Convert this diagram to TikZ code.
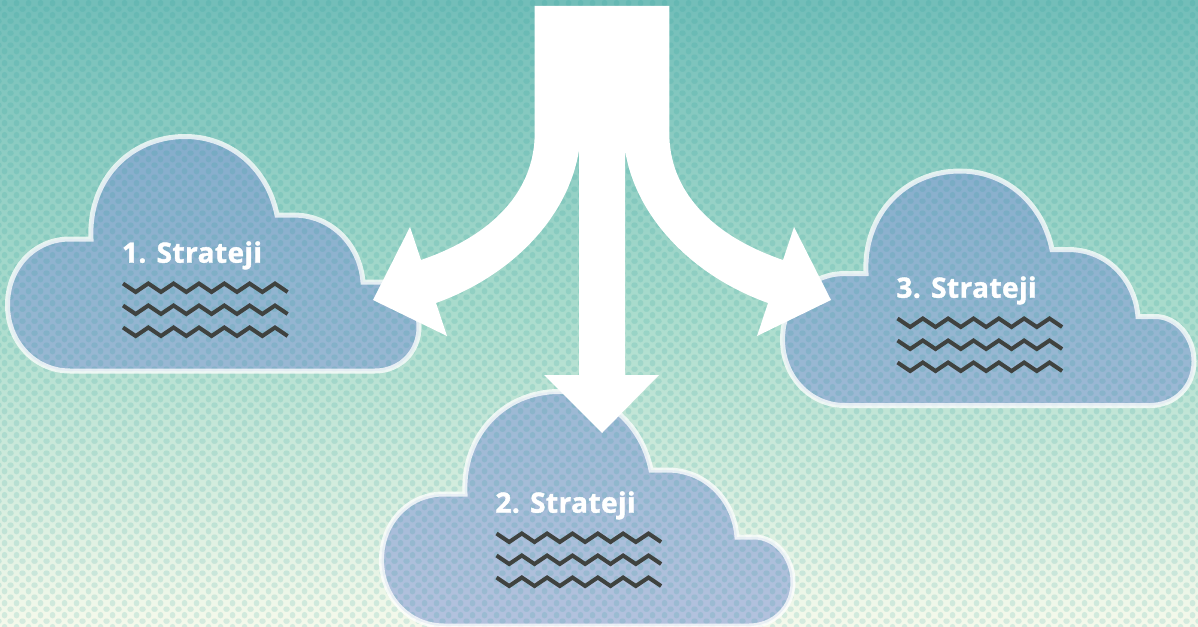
\documentclass[tikz,border=0pt]{standalone}
\usepackage{fontspec}
\usetikzlibrary{patterns}
\setmainfont{Open Sans}[BoldFont={Open Sans Bold},BoldFeatures={FakeBold=1.4,LetterSpace=1.5}]
\definecolor{bgtop}{RGB}{114,190,185}
\definecolor{bgmid}{RGB}{170,220,205}
\definecolor{bgbot}{RGB}{245,249,235}
\definecolor{dotc}{RGB}{30,155,150}
\definecolor{cloudc}{RGB}{130,152,212}
\definecolor{zigc}{RGB}{63,66,63}
\pgfdeclareverticalshading{bggrad}{100bp}{color(0bp)=(bgbot); color(25bp)=(bgbot); color(50bp)=(bgmid); color(75bp)=(bgtop); color(100bp)=(bgtop)}
\pgfdeclarepatternformonly{halftone}{\pgfpointorigin}{\pgfpoint{12pt}{12pt}}{\pgfpoint{12pt}{12pt}}{
 \pgfpathcircle{\pgfpoint{6pt}{0.3pt}}{3pt}
 \pgfpathcircle{\pgfpoint{6pt}{12.3pt}}{3pt}
 \pgfpathcircle{\pgfpoint{0pt}{6.3pt}}{3pt}
 \pgfpathcircle{\pgfpoint{12pt}{6.3pt}}{3pt}
 \pgfusepath{fill}}
\newcommand{\cloudshape}{(70,239) -- (91,239)
 .. controls (88,180) and (130,136.5) .. (185,136.5)
 .. controls (232,136.5) and (268,170) .. (277,215)
 -- (293,215) .. controls (332,215) and (360,245) .. (363,282)
 -- (380,282) .. controls (402,282) and (419,303) .. (419,327)
 .. controls (419,352) and (400,371) .. (375,371)
 -- (70,371) .. controls (34,371) and (7.5,341) .. (7.5,305)
 .. controls (7.5,268) and (34,239) .. (70,239) -- cycle}
\newcommand{\zigline}[1]{(123,#1) -- (135.66,#1+8.5) -- (148.3,#1) -- (161,#1+8.5) -- (173.6,#1) -- (186.3,#1+8.5) -- (199,#1) -- (211.6,#1+8.5) -- (224.3,#1) -- (237,#1+8.5) -- (249.6,#1) -- (262.3,#1+8.5) -- (275,#1) -- (287.6,#1+8.5)}
\tikzset{
 x=1pt,y=-1pt,
 cloudfill/.style={fill=cloudc,fill opacity=.57},
 cloudline/.style={draw=white,draw opacity=.76,line width=5pt,line join=miter},
 dotfill/.style={pattern=halftone,pattern color=dotc,fill opacity=.15},
 zig/.style={draw=zigc,line width=4pt,line join=miter},
 title/.style={text=white,font=\bfseries\fontsize{28}{30}\selectfont,anchor=base west,inner sep=0pt,outer sep=0pt},
 arrowfill/.style={fill=white}
}
\begin{document}
\begin{tikzpicture}
\useasboundingbox (0,0) rectangle (1198,626);
\begin{scope}
\clip (0,0) rectangle (1198,626);
\shade[shading=bggrad] (0,0) rectangle (1198,626);
% cloud fills
\fill[cloudfill] \cloudshape;
\begin{scope}[shift={(374,255)}]\fill[cloudfill] \cloudshape;\end{scope}
\begin{scope}[shift={(775,34.5)}]\fill[cloudfill] \cloudshape;\end{scope}
% halftone dots
\path[dotfill] (0,0) rectangle (1198,626);
% cloud outlines
\path[cloudline] \cloudshape;
\begin{scope}[shift={(374,255)}]\path[cloudline] \cloudshape;\end{scope}
\begin{scope}[shift={(775,34.5)}]\path[cloudline] \cloudshape;\end{scope}
% labels and squiggles
\node[title] (s1) at (122,262.7) {1. Strateji};
\draw[zig] \zigline{283.5};
\draw[zig] \zigline{305.5};
\draw[zig] \zigline{327.5};
\begin{scope}[shift={(373.5,250)}]
\node[title] (s2) at (122,262.7) {2. Strateji};
\draw[zig] \zigline{283.5};
\draw[zig] \zigline{305.5};
\draw[zig] \zigline{327.5};
\end{scope}
\begin{scope}[shift={(774.5,35)}]
\node[title] (s3) at (122,262.7) {3. Strateji};
\draw[zig] \zigline{283.5};
\draw[zig] \zigline{305.5};
\draw[zig] \zigline{327.5};
\end{scope}
% arrows
\fill[arrowfill] (534.7,6) -- (669.3,6) -- (669.3,133)
 .. controls (669.3,190) and (710,235) .. (783,260)
 -- (794,227) -- (831,300) -- (757,336) -- (768,303)
 .. controls (690,275) and (635,215) .. (625,150)
 -- (625,375) -- (659,375) -- (602,433) -- (544,375) -- (579,375) -- (579,150)
 .. controls (569,215) and (514,275) .. (436,303)
 -- (447,336) -- (373,300) -- (410,227) -- (421,260)
 .. controls (494,235) and (534.7,190) .. (534.7,133) -- cycle;
\end{scope}
\end{tikzpicture}
\end{document}
